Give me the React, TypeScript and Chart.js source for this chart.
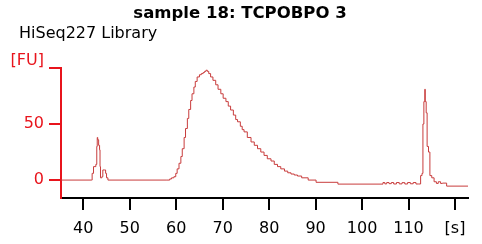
import React, { useEffect, useRef } from "react";
import { Chart, registerables } from "chart.js";

Chart.register(...registerables);

const titleText = "sample 18: TCPOBPO 3";
const subtitleText = "HiSeq227 Library";

const times = [
  35.2, 41.8, 41.9, 42.2, 42.7, 42.9, 43.0, 43.1, 43.3, 43.5, 43.6, 43.7, 44.0, 44.2, 44.6, 44.8, 45.0, 45.3,
  58.0, 58.6, 59.0, 59.5, 59.9, 60.2, 60.6, 61.0, 61.3, 61.7, 62.0, 62.4, 62.7, 63.1, 63.4, 63.8, 64.1, 64.5,
  65.0, 65.4, 65.8, 66.1, 66.4, 66.7, 67.0, 67.4, 67.9, 68.5, 69.0, 69.6, 70.1, 70.7, 71.2, 71.7, 72.3, 72.8,
  73.2, 73.8, 74.2, 74.6, 75.3, 76.1, 76.8, 77.5, 78.2, 78.9, 79.6, 80.4, 81.1, 81.8, 82.5, 83.3, 84.0, 84.7,
  85.4, 86.1, 87.0, 88.4, 90.1, 94.8,
  104.5, 104.9, 105.3, 105.8, 106.3, 106.8, 107.4, 108.0, 108.6, 109.2, 109.8, 110.4, 111.0, 111.6, 112.2,
  112.6, 112.9, 113.1, 113.3, 113.5, 113.6, 113.8, 114.0, 114.3, 114.6, 115.0, 115.5, 116.0, 116.4, 116.9,
  117.3, 118.2, 122.8,
];

const fu = [
  0, 0, 6, 12, 14, 30, 38, 36, 31, 27, 12, 2, 3, 9, 9, 6, 2, 0,
  0, 1, 2, 3, 6, 10, 15, 21, 28, 38, 46, 55, 63, 71, 77, 83, 88, 92,
  94, 95, 96, 97, 98, 97, 95, 92, 89, 85, 81, 77, 73, 70, 66, 62.5, 58, 54,
  52, 48, 45, 43, 38, 34, 31, 28, 25, 22, 19, 17, 14, 12, 10, 8, 6.5, 5.4,
  4.5, 3.6, 2, 0, -2, -3.6,
  -2.2, -3.4, -2.2, -3.2, -2.2, -3.5, -2.2, -3.4, -2.3, -3.5, -2.2, -3.3, -2.2, -3.5, -3.5,
  4, 6, 50, 70, 81, 70, 60, 30, 25, 4, 2, -1.5, -3, -1.5, -3,
  -2.7, -5.4, -5.4,
];

const xTickValues = [40, 50, 60, 70, 80, 90, 100, 110, 120];
const xTickLabels = ["40", "50", "60", "70", "80", "90", "100", "110", "[s]"];
const yTickValues = [0, 50, 100];
const yTickLabels = ["0", "50", "[FU]"];

const AXIS_RED = "#e8141c";
const LINE_RED = "#c83c3c";
const FONT = "'DejaVu Sans', sans-serif";

const textPlugin = {
  id: "headerText",
  afterDraw(chart: any) {
    const ctx = chart.ctx;
    ctx.save();
    ctx.fillStyle = "#000";
    ctx.textBaseline = "alphabetic";
    ctx.font = `bold 16.5px ${FONT}`;
    ctx.textAlign = "center";
    ctx.fillText(titleText, 240, 18);
    ctx.font = `16px ${FONT}`;
    ctx.textAlign = "left";
    ctx.fillText(subtitleText, 19, 38);
    ctx.restore();
  },
};

export default function App() {
  const ref = useRef<HTMLCanvasElement>(null);

  useEffect(() => {
    if (!ref.current) return;
    const points = times.map((t, i) => ({ x: t, y: fu[i] }));
    const chart = new Chart(ref.current, {
      type: "line",
      data: {
        datasets: [
          {
            data: points,
            borderColor: LINE_RED,
            borderWidth: 1,
            pointRadius: 0,
            stepped: true,
            fill: false,
          },
        ],
      },
      options: {
        animation: false,
        responsive: false,
        maintainAspectRatio: false,
        layout: { padding: { left: 0, right: 14, top: 68, bottom: 0 } },
        plugins: {
          legend: { display: false },
          title: { display: false },
          tooltip: { enabled: false },
        },
        scales: {
          x: {
            type: "linear",
            min: 35.2,
            max: 122.8,
            afterBuildTicks: (scale: any) => {
              scale.ticks = xTickValues.map((v) => ({ value: v }));
            },
            afterFit: (scale: any) => {
              scale.height = 46;
            },
            ticks: {
              autoSkip: false,
              maxRotation: 0,
              padding: 9,
              color: "#000",
              font: { family: FONT, size: 16 },
              callback: (value: any) => {
                const i = xTickValues.indexOf(Number(value));
                return i >= 0 ? xTickLabels[i] : "";
              },
            },
            grid: {
              display: true,
              drawOnChartArea: false,
              drawTicks: true,
              tickLength: 12,
              color: "#000",
              lineWidth: 2,
            },
            border: { display: true, color: "#000", width: 2 },
          },
          y: {
            min: -16,
            max: 100,
            afterBuildTicks: (scale: any) => {
              scale.ticks = yTickValues.map((v) => ({ value: v }));
            },
            afterFit: (scale: any) => {
              scale.width = 61;
            },
            ticks: {
              autoSkip: false,
              padding: 5,
              color: AXIS_RED,
              font: { family: FONT, size: 16, lineHeight: 0.9 },
              callback: (value: any) => {
                const i = yTickValues.indexOf(Number(value));
                if (i < 0) return "";
                return i === yTickValues.length - 1 ? [yTickLabels[i], ""] : yTickLabels[i];
              },
            },
            grid: {
              display: true,
              drawOnChartArea: false,
              drawTicks: true,
              tickLength: 12,
              color: AXIS_RED,
              lineWidth: 2,
            },
            border: { display: true, color: AXIS_RED, width: 2 },
          },
        },
      },
      plugins: [textPlugin],
    });
    return () => chart.destroy();
  }, []);

  return (
    <div style={{ position: "absolute", left: 0, top: 0, width: 482, height: 244, background: "#fff" }}>
      <canvas ref={ref} width={482} height={244} style={{ display: "block", width: 482, height: 244 }} />
    </div>
  );
}
